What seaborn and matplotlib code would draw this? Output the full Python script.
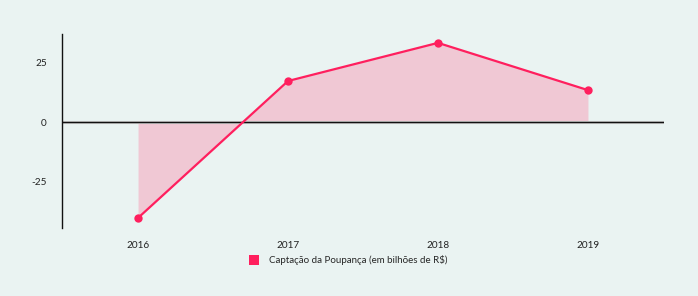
import matplotlib
matplotlib.use("Agg")
import matplotlib.pyplot as plt
import seaborn as sns
import pandas as pd
import numpy as np
from matplotlib.lines import Line2D

years = ["2016", "2017", "2018", "2019"]
values = [-40.0, 17.1, 33.0, 13.3]
yticks = [-25, 0, 25]
legend_label = "Captação da Poupança (em bilhões de R$)"

BG = "#EAF3F2"
LINE = "#FF1F5E"
FILL = "#F0C8D4"

sns.set_theme(style="white")
plt.rcParams['font.family'] = ['Lato', 'DejaVu Sans']

df = pd.DataFrame({"year": years, "value": values})
df["x"] = np.arange(len(years))

fig = plt.figure(figsize=(6.98, 2.96), dpi=100, facecolor=BG)
ax = fig.add_axes([62/698, 1-228/296, (664-62)/698, (228-34)/296])
ax.set_facecolor(BG)

ax.fill_between(df["x"], df["value"], 0, color=FILL, linewidth=0, zorder=1)
ax.axhline(0, color="#BBBBBB", linewidth=2.2, zorder=2)
ax.axhline(0, color="#111111", linewidth=0.9, zorder=3)
sns.lineplot(data=df, x="x", y="value", ax=ax, color=LINE, linewidth=1.6,
             marker="o", markersize=6, markeredgewidth=0, zorder=4)

ax.set_xlim(-0.507, 3.507)
ax.set_ylim(-44.2, 36.7)
ax.set_xticks(df["x"])
ax.set_xticklabels(years)
ax.set_yticks(yticks)
ax.set_yticklabels([str(t) for t in yticks])
ax.tick_params(axis="both", length=0, labelsize=7.2, colors="#222222")
ax.tick_params(axis="x", pad=9)
ax.tick_params(axis="y", pad=11)
ax.set_xlabel("")
ax.set_ylabel("")
for s in ["top", "right", "bottom"]:
    ax.spines[s].set_visible(False)
ax.spines["left"].set_color("#111111")
ax.spines["left"].set_linewidth(1.0)

handle = Line2D([], [], marker="s", linestyle="none", markersize=7,
                markerfacecolor=LINE, markeredgewidth=0)
fig.legend([handle], [legend_label], loc="center", bbox_to_anchor=(346/698, 1-260/296),
           frameon=False, fontsize=7.0, handletextpad=0.5, borderaxespad=0)

fig.savefig("out.png", dpi=100, facecolor=BG)
